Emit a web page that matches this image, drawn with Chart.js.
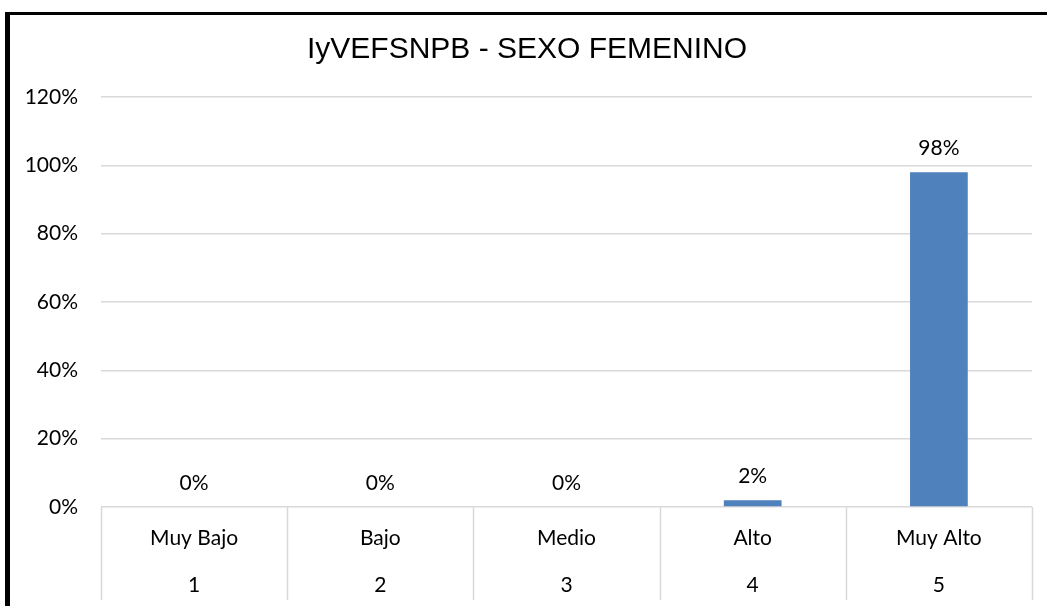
<!DOCTYPE html>
<html>
<head>
<meta charset="utf-8">
<script src="https://cdn.jsdelivr.net/npm/chart.js@4.4.1/dist/chart.umd.min.js"></script>
<style>
  html, body { margin: 0; padding: 0; background: #fff; }
  #wrap { position: relative; width: 1047px; height: 606px; overflow: hidden; }
  #frame { position: absolute; left: 5px; top: 12px; width: 1100px; height: 700px;
           border-left: 5px solid #000; border-top: 3px solid #000; pointer-events: none; }
  canvas { position: absolute; left: 0; top: 0; }
</style>
</head>
<body>
<div id="wrap">
  <canvas id="c" width="1047" height="606"></canvas>
  <div id="frame"></div>
</div>
<script>
const categories = [["Muy Bajo", "1"], ["Bajo", "2"], ["Medio", "3"], ["Alto", "4"], ["Muy Alto", "5"]];
const values = [0, 0, 0, 2, 98];
const yTicks = [0, 20, 40, 60, 80, 100, 120];
const titleText = "IyVEFSNPB - SEXO FEMENINO";

const labelFont = { family: "Lato, 'Open Sans', sans-serif", size: 21 };

const valueLabels = {
  id: 'valueLabels',
  afterDatasetsDraw(chart) {
    const ctx = chart.ctx;
    const meta = chart.getDatasetMeta(0);
    ctx.save();
    ctx.font = `${labelFont.size}px ${labelFont.family}`;
    ctx.fillStyle = '#000';
    ctx.textAlign = 'center';
    ctx.textBaseline = 'middle';
    meta.data.forEach((bar, i) => {
      ctx.fillText(values[i] + '%', bar.x, bar.y - 24);
    });
    ctx.restore();
  }
};

const separators = {
  id: 'separators',
  afterDraw(chart) {
    const ctx = chart.ctx;
    const xs = chart.scales.x;
    const n = categories.length;
    const step = (xs.right - xs.left) / n;
    ctx.save();
    ctx.strokeStyle = '#d9d9d9';
    ctx.lineWidth = 1.5;
    for (let i = 0; i <= n; i++) {
      const x = Math.round(xs.left + i * step) + 0.5;
      ctx.beginPath();
      ctx.moveTo(x, chart.chartArea.bottom);
      ctx.lineTo(x, 600);
      ctx.stroke();
    }
    ctx.restore();
  }
};

new Chart(document.getElementById('c'), {
  type: 'bar',
  data: {
    labels: categories,
    datasets: [{
      data: values,
      backgroundColor: '#4f81bd',
      borderWidth: 0,
      barPercentage: 0.31,
      categoryPercentage: 1.0
    }]
  },
  options: {
    responsive: false,
    animation: false,
    layout: { padding: { left: 22, right: 15, top: 0, bottom: 0 } },
    plugins: {
      legend: { display: false },
      tooltip: { enabled: false },
      title: {
        display: true,
        text: titleText,
        color: '#000',
        font: { family: "'Liberation Sans', Arial, sans-serif", size: 30, weight: 'normal' },
        padding: { top: 32, bottom: 29 }
      }
    },
    scales: {
      x: {
        grid: { display: false, drawTicks: false },
        border: { display: false },
        ticks: { color: '#000', font: { ...labelFont, lineHeight: 2.24 }, padding: 8, maxRotation: 0, autoSkip: false },
        afterFit(s) { s.height = 99; }
      },
      y: {
        min: 0, max: 120,
        afterBuildTicks(s) { s.ticks = yTicks.map(v => ({ value: v })); },
        grid: { color: '#d9d9d9', lineWidth: 1.5, drawTicks: false },
        border: { display: false },
        ticks: { color: '#000', font: labelFont, padding: 23, callback: v => v + '%' },
        afterFit(s) { s.width = 79; }
      }
    }
  },
  plugins: [valueLabels, separators]
});
</script>
</body>
</html>
